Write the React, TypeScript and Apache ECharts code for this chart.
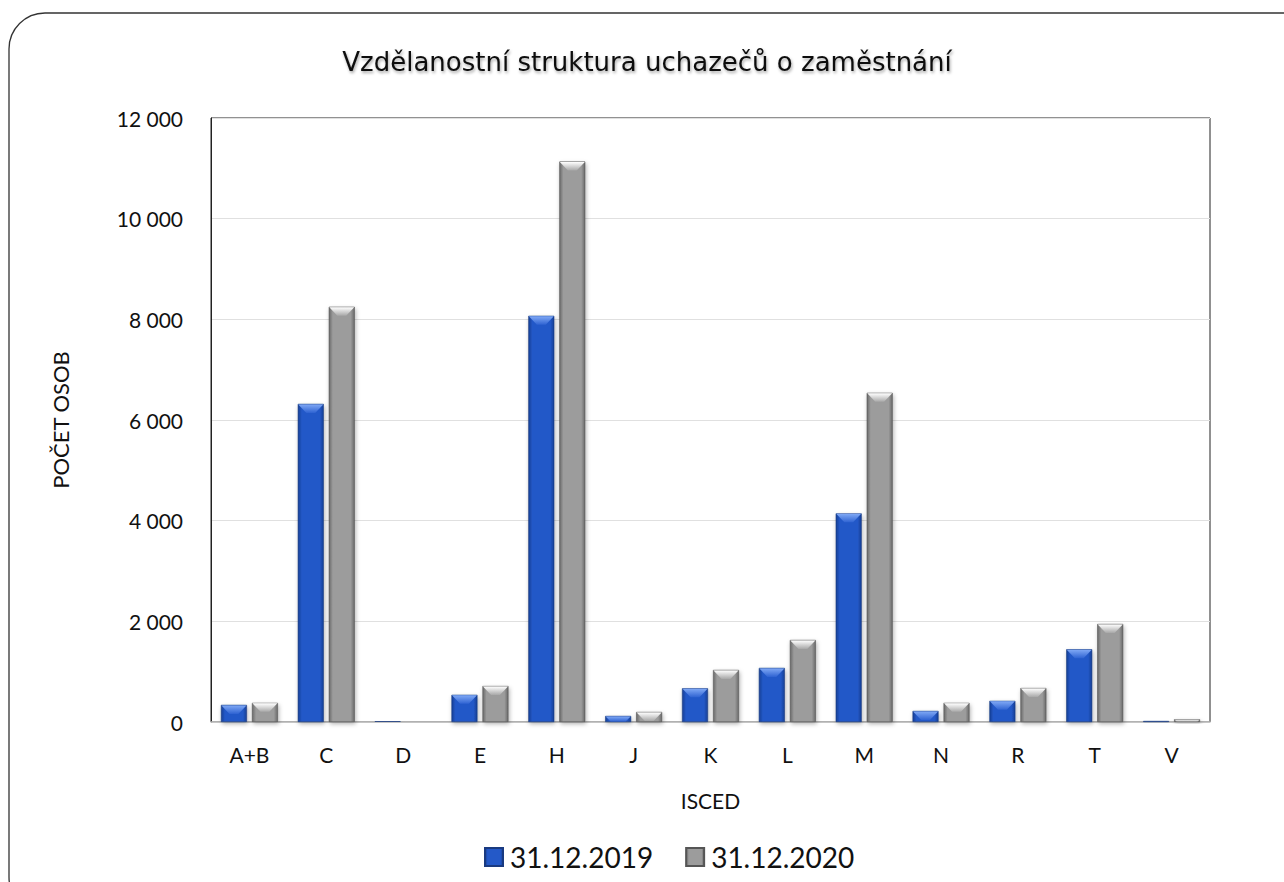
import React, { useEffect, useRef } from "react";
import * as echarts from "echarts";

const categories = ["A+B", "C", "D", "E", "H", "J", "K", "L", "M", "N", "R", "T", "V"];
const values2019 = [340, 6320, 15, 540, 8070, 120, 670, 1075, 4145, 220, 420, 1445, 20];
const values2020 = [380, 8250, 10, 715, 11135, 200, 1035, 1630, 6540, 380, 675, 1948, 55];
const seriesNames = ["31.12.2019", "31.12.2020"];
const yTicks = [0, 2000, 4000, 6000, 8000, 10000, 12000];

const FONT = "Lato, 'Noto Sans', sans-serif";
const BAR_W = 26;
const GAP = 5;

function grad(edge: string, mid: string) {
  return new echarts.graphic.LinearGradient(0, 0, 1, 0, [
    { offset: 0, color: edge },
    { offset: 0.15, color: mid },
    { offset: 0.5, color: mid },
    { offset: 0.85, color: mid },
    { offset: 1, color: edge },
  ]);
}

function bevelSeries(values: number[], offset: number, light: string, mid: string) {
  return {
    type: "custom",
    name: "bevel" + offset,
    silent: true,
    z: 5,
    data: values.map((v, i) => [i, v]),
    encode: { x: 0, y: 1 },
    renderItem: (params: any, api: any) => {
      const idx = api.value(0);
      const v = api.value(1);
      const top = api.coord([idx, v]);
      const base = api.coord([idx, 0]);
      const h = base[1] - top[1];
      const cx = top[0] + offset;
      const x0 = cx - BAR_W / 2 + 0.5;
      const x1 = cx + BAR_W / 2 - 0.5;
      const d = Math.min(9, Math.max(h - 0.5, 0));
      if (d <= 0.3) return { type: "group", children: [] };
      return {
        type: "polygon",
        shape: {
          points: [
            [x0, top[1] + 0.5],
            [x1, top[1] + 0.5],
            [x1 - d * 0.9, top[1] + d],
            [x0 + d * 0.9, top[1] + d],
          ],
        },
        style: {
          fill: new echarts.graphic.LinearGradient(0, 0, 0, 1, [
            { offset: 0, color: light },
            { offset: 1, color: mid },
          ]),
        },
      };
    },
  };
}

export default function App() {
  const ref = useRef<HTMLDivElement>(null);
  useEffect(() => {
    if (!ref.current) return;
    const chart = echarts.init(ref.current, undefined, { renderer: "svg" });
    const fmt = (v: number) => String(v).replace(/\B(?=(\d{3})+(?!\d))/g, " ");
    const barShadow = {
      shadowColor: "rgba(0,0,0,0.3)",
      shadowBlur: 4,
      shadowOffsetX: 1,
      shadowOffsetY: 2,
    };
    const off = (BAR_W + GAP) / 2;
    chart.setOption({
      animation: false,
      backgroundColor: "#fff",
      title: {
        text: "Vzdělanostní struktura uchazečů o zaměstnání",
        left: 642,
        textAlign: "center",
        top: 44,
        textStyle: {
          fontFamily: "'DejaVu Sans', sans-serif",
          fontSize: 26,
          fontWeight: "normal",
          color: "#111",
          textShadowColor: "rgba(0,0,0,0.35)",
          textShadowBlur: 3,
          textShadowOffsetX: 1,
          textShadowOffsetY: 2,
        },
      },
      graphic: [
        {
          type: "rect",
          shape: { x: 9, y: 13, width: 1320, height: 900, r: 36 },
          style: { fill: "none", stroke: "#333", lineWidth: 1.3 },
          z: 100,
          silent: true,
        },
      ],
      legend: {
        data: seriesNames,
        bottom: 6,
        left: 479,
        itemWidth: 18,
        itemHeight: 18,
        itemGap: 32,
        icon: "rect",
        textStyle: {
          fontFamily: FONT,
          fontSize: 28,
          color: "#111",
          width: 146,
          overflow: "none",
          padding: [0, 0, 0, 2],
        },
      },
      grid: {
        left: 211,
        right: 74,
        top: 118,
        bottom: 160,
        show: true,
        borderColor: "#222",
        borderWidth: 1,
        backgroundColor: "transparent",
      },
      xAxis: {
        type: "category",
        data: categories,
        name: "ISCED",
        nameLocation: "middle",
        nameGap: 68,
        nameTextStyle: { fontFamily: FONT, fontSize: 21, color: "#111" },
        axisLine: { lineStyle: { color: "#bdbdbd", width: 1.5 } },
        axisTick: { show: false },
        axisLabel: { fontFamily: FONT, fontSize: 21, color: "#111", margin: 22 },
      },
      yAxis: {
        type: "value",
        min: yTicks[0],
        max: yTicks[yTicks.length - 1],
        interval: 2000,
        name: "POČET OSOB",
        nameLocation: "middle",
        nameGap: 140,
        nameRotate: 90,
        nameTextStyle: { fontFamily: FONT, fontSize: 22, color: "#111" },
        axisLine: { show: true, lineStyle: { color: "#222", width: 1 } },
        axisTick: { show: false },
        splitLine: { lineStyle: { color: "#e0e0e0", width: 1 } },
        axisLabel: {
          fontFamily: FONT,
          fontSize: 21,
          color: "#111",
          margin: 28,
          formatter: (v: number) => fmt(v),
        },
      },
      series: [
        {
          name: seriesNames[0],
          type: "bar",
          data: values2019,
          barWidth: BAR_W,
          barGap: (GAP / BAR_W) * 100 + "%",
          itemStyle: {
            color: grad("#163f96", "#2459c8"),
            borderColor: "#1a3a80",
            borderWidth: 0.6,
            ...barShadow,
          },
        },
        {
          name: seriesNames[1],
          type: "bar",
          data: values2020,
          barWidth: BAR_W,
          itemStyle: {
            color: grad("#6a6a6a", "#9c9c9c"),
            borderColor: "#555",
            borderWidth: 0.6,
            ...barShadow,
          },
        },
        bevelSeries(values2019, -off, "#7fa8f5", "#2f63d2"),
        bevelSeries(values2020, off, "#ffffff", "#a8a8a8"),
      ],
    });
    return () => chart.dispose();
  }, []);
  return <div ref={ref} style={{ width: 1284, height: 882, position: "absolute", left: 0, top: 0 }} />;
}
